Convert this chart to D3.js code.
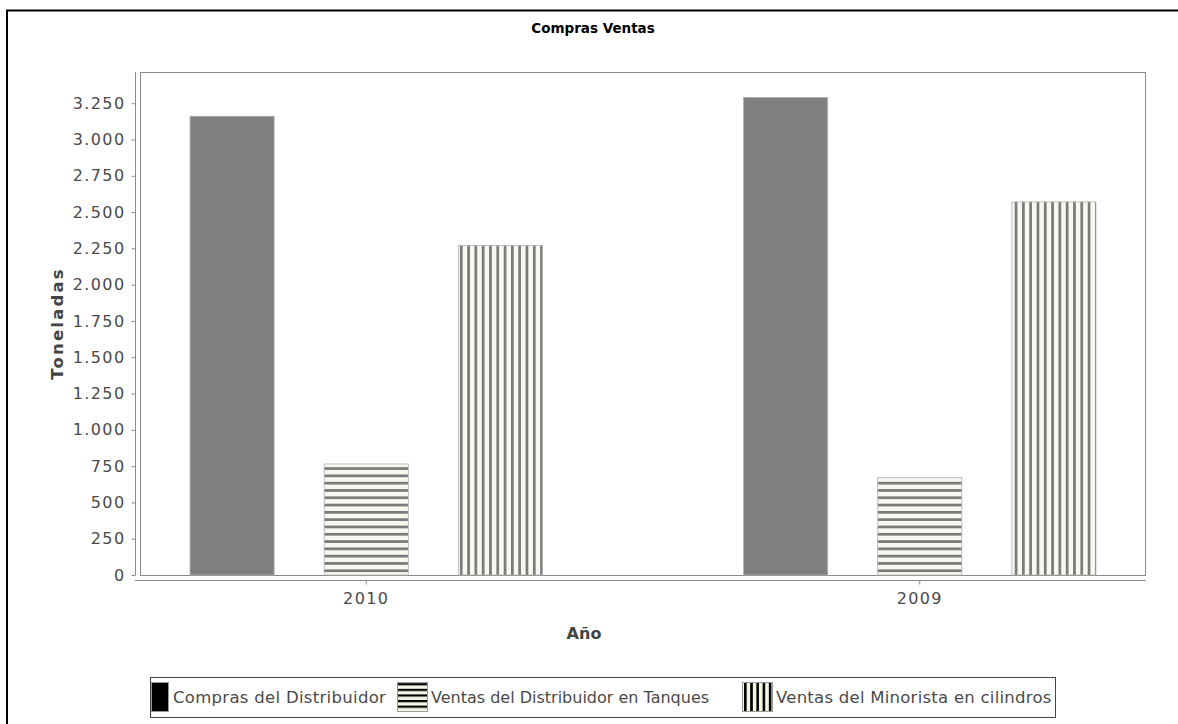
<!DOCTYPE html>
<html><head><meta charset="utf-8">
<script src="https://cdn.jsdelivr.net/npm/d3@7"></script>
<style>body{margin:0;background:#fff;} svg{display:block;font-family:"DejaVu Sans",sans-serif;}</style>
</head><body>
<svg id="c" width="1178" height="724"></svg>
<script>
const years = ["2010", "2009"];
const seriesNames = ["Compras del Distribuidor", "Ventas del Distribuidor en Tanques", "Ventas del Minorista en cilindros"];
const compras = [3160, 3290];
const tanques = [765, 670];
const minorista = [2270, 2570];
const yTicks = [0,250,500,750,1000,1250,1500,1750,2000,2250,2500,2750,3000,3250];

const svg = d3.select("#c");
const W = 1178, H = 724;
svg.append("rect").attr("width", W).attr("height", H).attr("fill", "#fff");
svg.append("path").attr("d", "M7,725 V10.5 H1180").attr("fill","none").attr("stroke","#000").attr("stroke-width",2);

const defs = svg.append("defs");
function stripes(id, horiz, period, thick, color, bg) {
  const p = defs.append("pattern").attr("id", id).attr("patternUnits","userSpaceOnUse")
    .attr("width", horiz ? 10 : period).attr("height", horiz ? period : 10);
  p.append("rect").attr("width", horiz?10:period).attr("height", horiz?period:10).attr("fill", bg);
  if (horiz) p.append("rect").attr("x",0).attr("y",0).attr("width",10).attr("height",thick).attr("fill",color);
  else p.append("rect").attr("x",0).attr("y",0).attr("width",thick).attr("height",10).attr("fill",color);
}
stripes("hbar", true, 7.3, 2.7, "#7a7a7a", "#f8f8f0");
stripes("vbar", false, 7.3, 2.7, "#7a7a7a", "#f8f8f0");
stripes("hleg", true, 5.6, 2.2, "#000", "#f4f4e4");
stripes("vleg", false, 6.2, 2.6, "#000", "#f4f4e4");

const L = 140, R = 1146, T = 72, B = 575;
const x0 = d3.scaleBand().domain(years).range([L, R]).paddingInner(0.3635).paddingOuter(0.0904);
const x1 = d3.scaleBand().domain(d3.range(3)).range([0, x0.bandwidth()]).paddingInner(0.373).paddingOuter(0);
const y = d3.scaleLinear().domain([0, 3465]).range([B, T]);
const loc = d3.formatLocale({decimal: ",", thousands: ".", grouping: [3], currency: ["", ""]});
const fmt = loc.format(",d");

svg.append("rect").attr("x", L+0.5).attr("y", T+0.5).attr("width", R-L-1).attr("height", B-T).attr("fill","none").attr("stroke","#8a8a8a");

const series = [compras, tanques, minorista];
const fills = ["#808080", "url(#hbar)", "url(#vbar)"];
series.forEach((vals, si) => {
  svg.append("g").selectAll("rect").data(years).join("rect")
    .attr("x", d => x0(d) + x1(si))
    .attr("y", (d, i) => y(vals[i]))
    .attr("width", x1.bandwidth())
    .attr("height", (d, i) => B - y(vals[i]))
    .attr("fill", fills[si])
    .attr("stroke", "#b0b0b0").attr("stroke-width", 0.8);
});

const yAxis = d3.axisLeft(y).tickValues(yTicks).tickFormat(fmt).tickSize(4).tickPadding(6);
const gy = svg.append("g").attr("transform", "translate(135.5,0)").call(yAxis);
gy.select(".domain").attr("d", `M0,${T}V${B}`).attr("stroke", "#8a8a8a");
gy.selectAll(".tick line").attr("stroke", "#8a8a8a");
gy.selectAll("text").attr("fill", "#4a4a4a").style("font-size", "16px").style("letter-spacing","1.4px").style("font-family", "DejaVu Sans");

const xAxis = d3.axisBottom(x0).tickSize(4).tickPadding(8);
const gx = svg.append("g").attr("transform", "translate(0,580.5)").call(xAxis);
gx.select(".domain").attr("d", `M${L-5},0H${R}`).attr("stroke", "#8a8a8a");
gx.selectAll(".tick line").attr("stroke", "#8a8a8a");
gx.selectAll("text").attr("fill", "#4a4a4a").style("font-size", "16px").style("letter-spacing","1.4px").style("font-family", "DejaVu Sans");

svg.append("text").attr("x", 593).attr("y", 33).attr("text-anchor","middle")
  .style("font-weight","bold").style("font-size","13.5px").attr("fill","#000").text("Compras Ventas");
svg.append("text").attr("x", 584).attr("y", 639).attr("text-anchor","middle")
  .style("font-weight","bold").style("font-size","16px").attr("fill","#444").text("Año");
svg.append("text").attr("transform","translate(63,323.5) rotate(-90)").attr("text-anchor","middle")
  .style("font-weight","bold").style("font-size","16.5px").style("letter-spacing","2.2px").attr("fill","#444").text("Toneladas");

const lg = svg.append("g");
lg.append("rect").attr("x",150.5).attr("y",677.5).attr("width",905).attr("height",40).attr("fill","#fff").attr("stroke","#444");
const legItems = [
  {sx: 151, sw: 17, tx: 173, fill: "#000", fs: "16.5px", ls: "0.3px"},
  {sx: 397, sw: 30, tx: 431, fill: "url(#hleg)", fs: "16px", ls: "0px"},
  {sx: 742, sw: 30, tx: 776, fill: "url(#vleg)", fs: "16.5px", ls: "0.25px"}
];
legItems.forEach((it, i) => {
  lg.append("rect").attr("x", it.sx+0.5).attr("y", 682.5).attr("width", it.sw).attr("height", 29)
    .attr("fill", it.fill).attr("stroke", "#999");
  lg.append("text").attr("x", it.tx).attr("y", 703).style("font-size", it.fs).style("letter-spacing", it.ls).attr("fill","#4a4a4a").text(seriesNames[i]);
});
</script>
</body></html>
